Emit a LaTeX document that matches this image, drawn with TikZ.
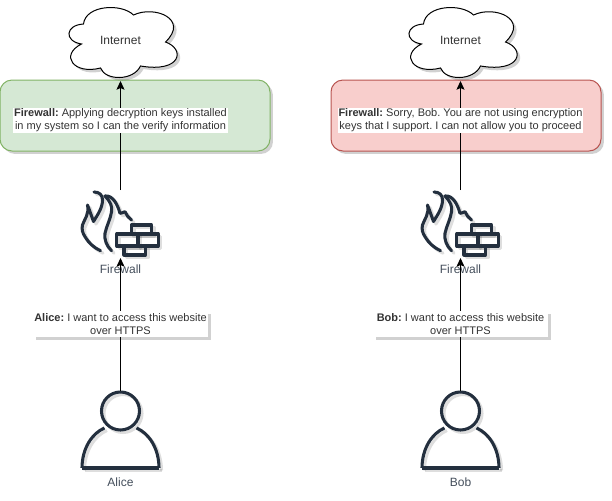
\documentclass[tikz,border=0pt]{standalone}
\usepackage{fontspec}
\setmainfont{Liberation Sans}
\usetikzlibrary{positioning, arrows.meta, shadows}
\definecolor{okfill}{HTML}{D5E8D4}
\definecolor{okline}{HTML}{82B366}
\definecolor{nofill}{HTML}{F8CECC}
\definecolor{noline}{HTML}{B85450}
\definecolor{icondark}{HTML}{232F3E}
\definecolor{textgray}{HTML}{333333}
\frenchspacing

% outlines of the three icons, origin at the middle of each
\newcommand{\cloudoutline}{
  (-40,3) .. controls (-58,0) and (-56,-16) .. (-38,-17)
  .. controls (-36,-36) and (0,-38) .. (12,-26)
  .. controls (33,-36) and (68,-22) .. (44,1)
  .. controls (64,8) and (60,32) .. (19,25)
  .. controls (12,40) and (-16,40) .. (-21,27)
  .. controls (-48,34) and (-62,14) .. (-40,3) -- cycle}
\newcommand{\firewalllines}[1]{
  \begin{scope}[#1, line width=2.3pt, line join=round, line cap=round]
    % flames
    \draw (-26.5,-32) .. controls (-21,-32) and (-18,-29) .. (-18,-24)
      .. controls (-18,-16) and (-23,-9) .. (-27,-2.5)
      .. controls (-29,-8) and (-31,-14) .. (-33,-19)
      .. controls (-31,-10) and (-36,-5) .. (-38,1)
      .. controls (-39,5) and (-38,9) .. (-35.5,12.7)
      .. controls (-32,19) and (-26,24) .. (-20,26.7);
    \draw (-15.5,-28) .. controls (-8,-29) and (-3,-20) .. (-0.5,-10.7)
      .. controls (1,-11) and (3,-11.5) .. (4.5,-12.3)
      .. controls (6,-9) and (8,-6) .. (11,-4);
    \draw (-15.5,-28) .. controls (-10,-22) and (-8,-18) .. (-9,-12)
      .. controls (-10,-5) and (-14,2) .. (-15.5,9.3)
      .. controls (-16.5,15) and (-14,22) .. (-9,26.7);
    % bricks
    \draw (-3.8,10) rectangle (37.8,22);
    \draw (11,1) rectangle (31,10);
    \draw (3.5,22) rectangle (25,31);
    \draw (17.5,10) -- (17.5,22);
  \end{scope}}
\newcommand{\userlines}[1]{
  \begin{scope}[#1, line width=2.3pt, line join=round]
    \draw (0,-19) circle[radius=19];
    \draw (-38.5,38) -- (38.5,38);
    \draw (-38.5,38) .. controls (-38.5,18) and (-28,3) .. (-16,-2);
    \draw (38.5,38) .. controls (38.5,18) and (28,3) .. (16,-2);
  \end{scope}}

\tikzset{
  softshadow/.style={drop shadow={shadow xshift=2.2pt, shadow yshift=-2.2pt,
      fill=black, opacity=0.18}},
  panelbox/.style={rounded corners=9pt, line width=0.75pt, minimum width=202.5pt,
      minimum height=53.25pt, softshadow},
  hiddenbox/.style={inner sep=0pt, outer sep=0pt},
  plainlabel/.style={font=\fontsize{8.25}{9.75}\selectfont, text=textgray,
      inner sep=0.5pt, align=center},
  saybox/.style={plainlabel, fill=white, inner xsep=0.6pt, inner ysep=0.6pt},
  requestbox/.style={saybox, softshadow, minimum width=131pt, minimum height=20pt},
  iconlabel/.style={plainlabel, font=\fontsize{9}{10.5}\selectfont, text=icondark!85},
  flow/.style={-{Stealth[length=6.5pt, width=6pt, inset=1.2pt]}, line width=0.75pt},
  internetcloud/.pic={
    \fill[black, opacity=0.18, shift={(3,3)}] \cloudoutline;
    \draw[fill=white, line width=0.75pt] \cloudoutline;
  },
  firewallicon/.pic={
    \firewalllines{shift={(2.5,2.5)}, draw=black, opacity=0.13}
    \firewalllines{draw=icondark}
  },
  usericon/.pic={
    \userlines{shift={(2.5,2.5)}, draw=black, opacity=0.13}
    \userlines{draw=icondark}
  },
}

\begin{document}
\begin{tikzpicture}[x=0.75pt, y=-0.75pt]
  \useasboundingbox (0,0) rectangle (612,501);

  % green and red panels
  \node[panelbox, draw=okline, fill=okfill] (panelalice) at (135,115.5) {};
  \node[panelbox, draw=noline, fill=nofill] (panelbob) at (466,115.5) {};

  % the same column twice: cloud, firewall, user
  \foreach \who/\cx/\name in {alice/120.5/Alice, bob/460.5/Bob}{
    \pic at (\cx+1,41) {internetcloud};
    \node[hiddenbox, minimum width=80pt, minimum height=54.75pt] (inet\who) at (\cx,44.5) {};
    \node[plainlabel, font=\fontsize{9}{10.5}\selectfont] (inettext\who) at (\cx,40.5) {Internet};
    \pic at (\cx,224) {firewallicon};
    \node[hiddenbox, minimum width=60pt, minimum height=51pt] (fw\who) at (\cx,224) {};
    \node[iconlabel] (fwtext\who) at (\cx,269) {Firewall};
    \pic at (\cx,430) {usericon};
    \node[hiddenbox, minimum width=60pt, minimum height=58.5pt] (user\who) at (\cx,430) {};
    \node[iconlabel] (usertext\who) at (\cx,482) {\name};
    % connectors
    \draw[flow] (user\who) -- (fw\who);
    \draw[flow] (fw\who) -- (inet\who);
  }

  % what each side says
  \node[saybox] (sayfwalice) at (120.5,120.5)
    {\textbf{Firewall:} Applying decryption keys installed\\in my system so I can the verify information};
  \node[saybox] (sayfwbob) at (460.5,120.5)
    {\textbf{Firewall:} Sorry, Bob. You are not using encryption\\keys that I support. I can not allow you to proceed};
  \node[requestbox] (sayalice) at (120.5,324)
    {\textbf{Alice:} I want to access this website\\over HTTPS};
  \node[requestbox] (saybob) at (460.5,324)
    {\textbf{Bob:} I want to access this website\\over HTTPS};
\end{tikzpicture}
\end{document}
